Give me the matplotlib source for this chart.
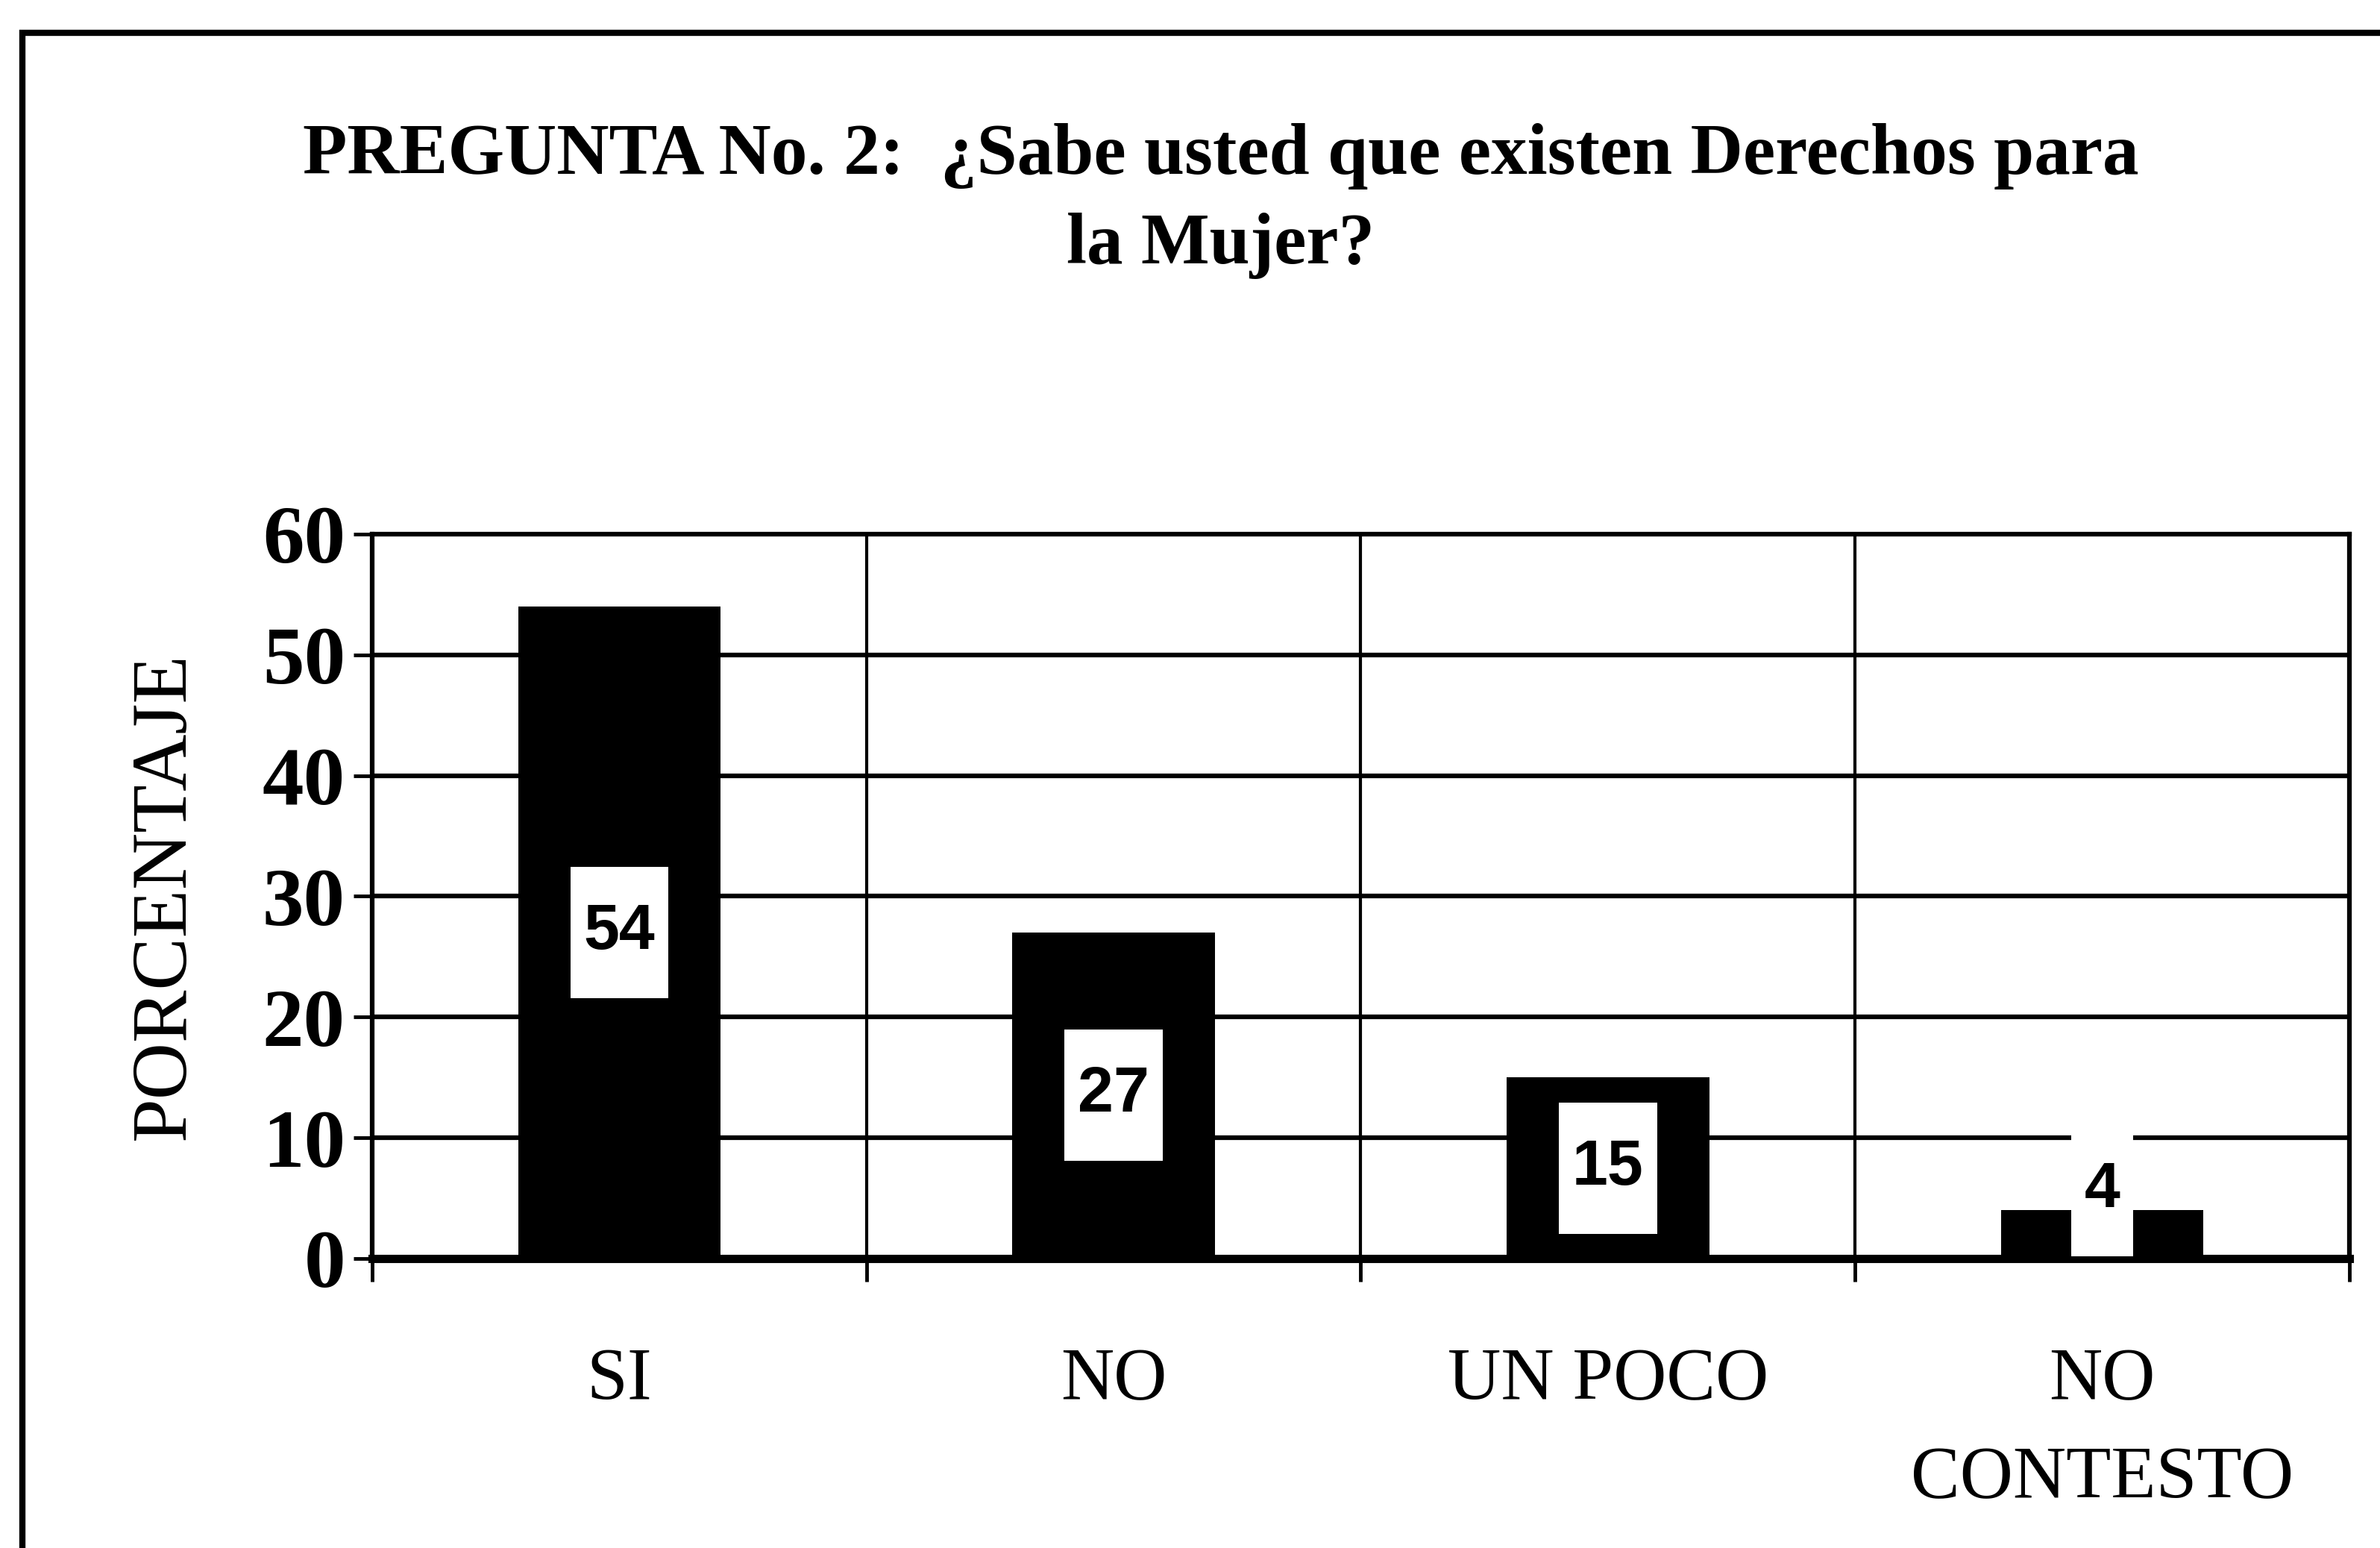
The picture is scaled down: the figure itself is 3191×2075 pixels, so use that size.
import matplotlib
matplotlib.use('Agg')
import matplotlib.pyplot as plt
from matplotlib.patches import Rectangle
import numpy as np

# Data

categorias = ['SI', 'NO', 'UN POCO', 'NO\nCONTESTO']
porcentaje = [54, 27, 15, 4]
yticks = [0, 10, 20, 30, 40, 50, 60]

titulo = 'PREGUNTA No. 2:  ¿Sabe usted que existen Derechos para\nla Mujer?'

serif = ['Liberation Serif', 'DejaVu Serif']
sans = ['Liberation Sans', 'DejaVu Sans']

fig = plt.figure(figsize=(31.91, 20.75), dpi=100)
ax = fig.add_axes([0.1564, 0.187, 0.8307, 0.468])

x = np.arange(len(categorias))
ax.bar(x, porcentaje, width=0.41, color='black', zorder=3)

ax.set_xlim(-0.5, len(categorias) - 0.5)
ax.set_ylim(0, 60)

# grid
for y in yticks[1:-1]:
    ax.axhline(y, color='black', lw=4.5, zorder=1)
for b in np.arange(0.5, len(categorias) - 0.5, 1):
    ax.axvline(b, color='black', lw=3, zorder=1)

for s in ax.spines.values():
    s.set_linewidth(4.5)
    s.set_zorder(5)
ax.spines['bottom'].set_linewidth(8)

ax.set_yticks(yticks)
ax.set_yticklabels([str(v) for v in yticks], family=serif, fontweight='bold', fontsize=80)
ax.tick_params(axis='y', direction='out', length=18, width=3.5, pad=8)

ax.set_xticks(x)
ax.set_xticklabels(categorias, family=serif, fontsize=71, linespacing=1.6)
ax.tick_params(axis='x', which='major', length=0, pad=86)
ax.set_xticks(np.arange(-0.5, len(categorias), 1), minor=True)
ax.tick_params(axis='x', which='minor', direction='out', length=22, width=3.5)

ax.set_ylabel('PORCENTAJE', family=serif, fontsize=76)
ax.yaxis.set_label_coords(-0.0865, 0.5)

# value labels in white boxes
textos = []
for i, v in enumerate(porcentaje):
    yc = max(v / 2, 5.6)
    t = ax.text(i, yc, str(v), ha='center', va='center', family=sans,
                fontsize=62, fontweight='bold', zorder=7)
    textos.append((t, i, yc))

fig.canvas.draw()
r = fig.canvas.get_renderer()
inv = ax.transData.inverted()
for t, i, yc in textos:
    bb = t.get_window_extent(r)
    cx, cy = ax.transData.transform((i, yc))
    x0, y0 = inv.transform((bb.x0 - 18, cy - 88))
    x1, y1 = inv.transform((bb.x1 + 18, cy + 88))
    ax.add_patch(Rectangle((x0, y0), x1 - x0, y1 - y0, facecolor='white',
                           edgecolor='none', zorder=6))

fig.text(0.513, 0.870, titulo, ha='center', va='center', family=serif,
         fontweight='bold', fontsize=70, linespacing=1.45)

# page frame
fig.patches.append(Rectangle((0.0094, -0.05), 1.2, 1.029, transform=fig.transFigure,
                             fill=False, edgecolor='black', lw=6))

fig.savefig('out.png', dpi=100)
